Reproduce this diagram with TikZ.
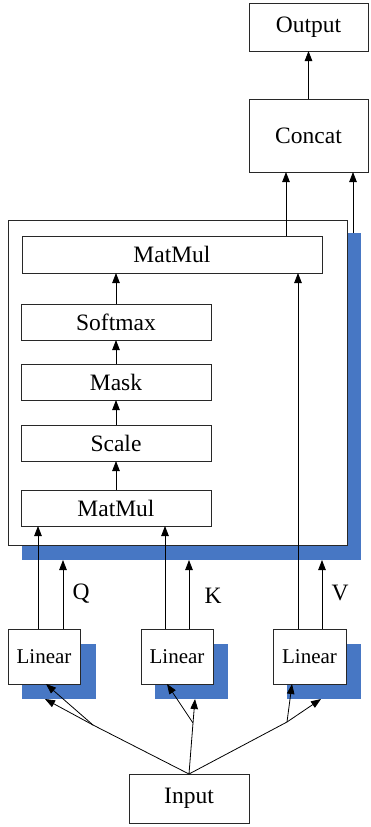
\documentclass[tikz,border=0pt]{standalone}
\usepackage{fontspec}
\setmainfont{Liberation Serif}
\usetikzlibrary{arrows.meta,calc}
\definecolor{headblue}{RGB}{71,119,196}
\definecolor{edge}{RGB}{40,40,40}
\begin{document}
\begin{tikzpicture}[x=1pt,y=-1pt,
  font=\fontsize{23.5}{28}\selectfont,
  box/.style={draw=edge,line width=0.9pt,fill=white,rectangle,inner sep=0pt,outer sep=0pt},
  linbox/.style={box,minimum height=55pt,font=\fontsize{21}{25}\selectfont},
  shade/.style={fill=headblue,rectangle,inner sep=0pt,outer sep=0pt},
  arr/.style={draw=black,line width=0.8pt,-{Triangle[length=10pt,width=7.5pt]}},
  ln/.style={draw=black,line width=0.8pt}]
\useasboundingbox (0,0) rectangle (370,827);
% shadows
\node[shade,minimum width=339pt,minimum height=327pt] (sh) at (191.5,396.5) {};
\node[shade,minimum width=74pt,minimum height=55pt] (s1) at (59,671.5) {};
\node[shade,minimum width=73pt,minimum height=55pt] (s2) at (191.5,671.5) {};
\node[shade,minimum width=74pt,minimum height=55pt] (s3) at (324,671.5) {};
% boxes
\node[box,minimum width=119pt,minimum height=48pt] (out) at (308.5,27) {Output};
\node[box,minimum width=119pt,minimum height=73pt] (concat) at (308.5,135.5) {Concat};
\node[box,minimum width=339pt,minimum height=325pt] (heads) at (177.5,382.5) {};
\node[box,minimum width=300pt,minimum height=37pt] (mm2) at (172,254.5) {MatMul};
\node[box,minimum width=190pt,minimum height=36pt] (softmax) at (116,322) {Softmax};
\node[box,minimum width=190pt,minimum height=36pt] (mask) at (116,382) {Mask};
\node[box,minimum width=190pt,minimum height=36pt] (scale) at (116,443) {Scale};
\node[box,minimum width=190pt,minimum height=36pt] (mm1) at (116,508) {MatMul};
\node[linbox,minimum width=72pt] (l1) at (44,656.5) {Linear};
\node[linbox,minimum width=72pt] (l2) at (177,656.5) {Linear};
\node[linbox,minimum width=73pt] (l3) at (309.5,656.5) {Linear};
\node[box,minimum width=120pt,minimum height=49pt] (input) at (189,798.5) {Input};
% labels
\node (q) at (81,594) {Q};
\node (k) at (213,596) {K};
\node (v) at (340,593) {V};
% top connectors
\draw[arr] (concat.north) -- (out.south);
\draw[arr] ([xshift=114pt]mm2.north) -- ([xshift=114pt]mm2.north |- concat.south);
\draw[arr] ([xshift=161.5pt]sh.north) -- ([xshift=161.5pt]sh.north |- concat.south);
\draw[arr] (softmax.north) -- (softmax.north |- mm2.south);
\draw[arr] (mask.north) -- (softmax.south);
\draw[arr] (scale.north) -- (mask.south);
\draw[arr] (mm1.north) -- (scale.south);
% Q K V
\draw[arr] ([xshift=-6pt]l1.north) -- ([xshift=-6pt]l1.north |- mm1.south);
\draw[arr] ([xshift=19pt]l1.north) -- ([xshift=19pt]l1.north |- sh.south);
\draw[arr] ([xshift=-12pt]l2.north) -- ([xshift=-12pt]l2.north |- mm1.south);
\draw[arr] ([xshift=12pt]l2.north) -- ([xshift=12pt]l2.north |- sh.south);
\draw[arr] ([xshift=-11.5pt]l3.north) -- ([xshift=-11.5pt]l3.north |- mm2.south);
\draw[arr] ([xshift=12.5pt]l3.north) -- ([xshift=12.5pt]l3.north |- sh.south);
% input fan-out
\coordinate (b1) at (93,725);
\coordinate (b2) at (193,723);
\coordinate (b3) at (287,722);
\draw[ln] (input.north) -- (b1);
\draw[ln] (input.north) -- (b2);
\draw[ln] (input.north) -- (b3);
\draw[arr] (b1) -- ([xshift=2pt]l1.south);
\draw[arr] (b1) -- ([xshift=-14pt]s1.south);
\draw[arr] (b2) -- ([xshift=-10pt]l2.south);
\draw[arr] (b2) -- ([xshift=3.5pt]s2.south);
\draw[arr] (b3) -- ([xshift=-17.5pt]l3.south);
\draw[arr] (b3) -- ([xshift=-3pt]s3.south);
\end{tikzpicture}
\end{document}
